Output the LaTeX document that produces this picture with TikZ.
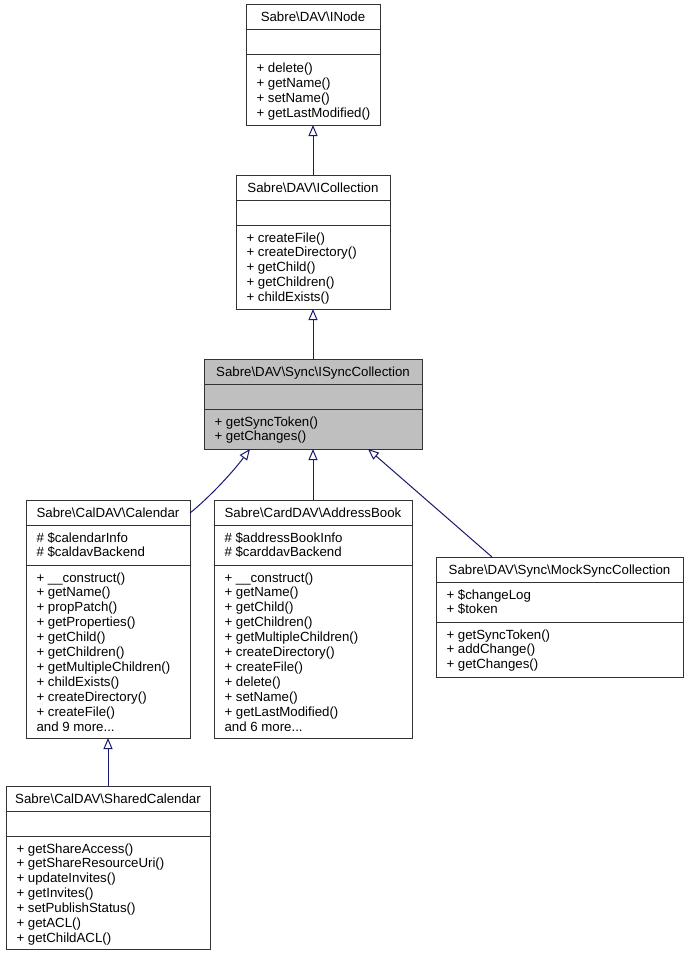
\documentclass[tikz,border=0pt]{standalone}
\usepackage{fontspec}
\setmainfont{Liberation Sans}
\usetikzlibrary{arrows.meta}
\definecolor{edgeblue}{HTML}{191970}
\definecolor{boxgray}{HTML}{BFBFBF}
\definecolor{boxline}{HTML}{333333}
\newcommand\bsl{\textbackslash}
\newcommand\mdots{...}
\tikzset{
  clsrect/.style={draw=boxline, line width=0.75pt, rectangle, inner sep=0pt, outer sep=0pt},
  clsline/.style={draw=boxline, line width=0.75pt},
  clstext/.style={font=\fontsize{9.95}{11.25}\selectfont, inner sep=0pt, outer sep=0pt},
  inh/.style={draw=edgeblue, line width=0.75pt, -{Triangle[open, length=8.25pt, width=6.75pt]}},
}
\newcommand\clsbox[9]{%
  \node[clsrect, fill=#8, minimum width={(#4-#2)*0.75pt}, minimum height={(#5-#3)*0.75pt}] (#1) at ({(#2+#4)/2},{(#3+#5)/2}) {};
  \draw[clsline] (#2,#6) -- (#4,#6) (#2,#7) -- (#4,#7);
  \node[clstext, anchor=base] (#1-t) at ({(#2+#4)/2},#3+17) {#9};}
\newcommand\clsmembers[4]{%
  \foreach \txt [count=\i from 0] in {#4}{%
    \node[clstext, anchor=base west] (#1\i) at (#2,{#3+14.9*\i}) {\txt};}}
\begin{document}
\begin{tikzpicture}[x=0.75pt, y=-0.75pt]
\path[use as bounding box, fill=white] (0,0) rectangle (689,956);
% INode
\clsbox{inode}{246}{5}{380}{125}{30}{55}{white}{Sabre\bsl DAV\bsl INode}
\clsmembers{inode-m}{256.5}{72.5}{+ delete(), + getName(), + setName(), + getLastModified()}
% ICollection
\clsbox{icoll}{236}{175}{390}{309}{200}{225}{white}{Sabre\bsl DAV\bsl ICollection}
\clsmembers{icoll-m}{246.5}{242}{+ createFile(), + createDirectory(), + getChild(), + getChildren(), + childExists()}
% ISyncCollection
\clsbox{isync}{204}{359}{422}{449}{384}{409}{boxgray}{Sabre\bsl DAV\bsl Sync\bsl ISyncCollection}
\clsmembers{isync-m}{214.5}{426}{+ getSyncToken(), + getChanges()}
% Calendar
\clsbox{cal}{26}{500}{190}{738}{525}{565}{white}{Sabre\bsl CalDAV\bsl Calendar}
\clsmembers{cal-a}{36.5}{542}{\# \$calendarInfo, \# \$caldavBackend}
\clsmembers{cal-m}{36.5}{582}{+ \_\_construct(), + getName(), + propPatch(), + getProperties(), + getChild(), + getChildren(), + getMultipleChildren(), + childExists(), + createDirectory(), + createFile(), and 9 more\mdots}
% AddressBook
\clsbox{addr}{214}{500}{412}{738}{525}{565}{white}{Sabre\bsl CardDAV\bsl AddressBook}
\clsmembers{addr-a}{224.5}{542}{\# \$addressBookInfo, \# \$carddavBackend}
\clsmembers{addr-m}{224.5}{582}{+ \_\_construct(), + getName(), + getChild(), + getChildren(), + getMultipleChildren(), + createDirectory(), + createFile(), + delete(), + setName(), + getLastModified(), and 6 more\mdots}
% MockSyncCollection
\clsbox{mock}{436}{557}{683}{677}{582}{622}{white}{Sabre\bsl DAV\bsl Sync\bsl MockSyncCollection}
\clsmembers{mock-a}{446.5}{599}{+ \$changeLog, + \$token}
\clsmembers{mock-m}{446.5}{639}{+ getSyncToken(), + addChange(), + getChanges()}
% SharedCalendar
\clsbox{shared}{6}{786}{210}{949}{811}{836}{white}{Sabre\bsl CalDAV\bsl SharedCalendar}
\clsmembers{shared-m}{16.5}{853}{+ getShareAccess(), + getShareResourceUri(), + updateInvites(), + getInvites(), + setPublishStatus(), + getACL(), + getChildACL()}
% inheritance edges
\draw[inh] (icoll.north) -- (inode.south);
\draw[inh] (isync.north) -- (icoll.south);
\draw[inh] (addr.north) -- (isync.south);
\draw[inh] (shared.north) -- (cal.south);
\draw[inh] ([yshift=-9.75pt]cal.north east) .. controls (205,501) and (229,477) .. ([xshift=34.5pt]isync.south west);
\draw[inh] ([xshift=42pt]mock.north west) -- ([xshift=-40.5pt]isync.south east);
\end{tikzpicture}
\end{document}
